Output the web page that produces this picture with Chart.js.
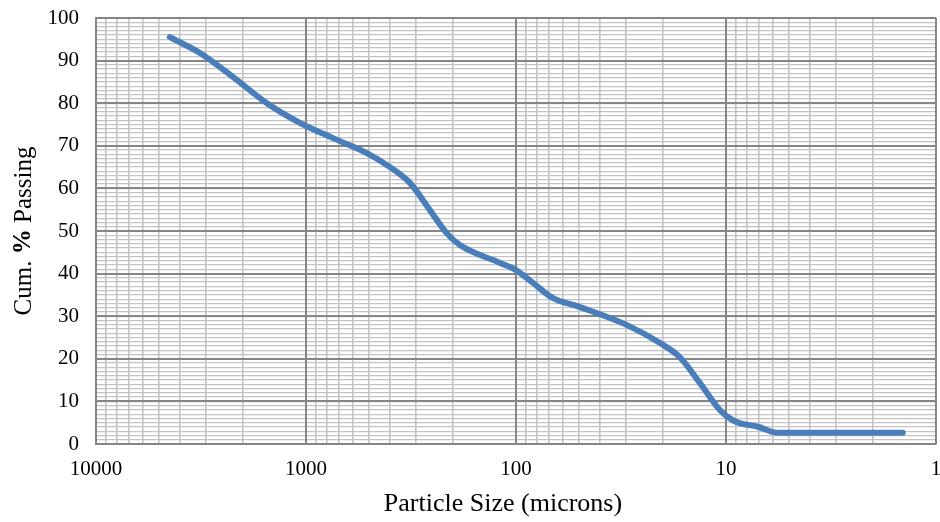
<!DOCTYPE html>
<html lang="en">
<head>
    <meta charset="UTF-8">
    <title>Particle Size Distribution</title>
    <script src="https://cdn.jsdelivr.net/npm/chart.js"></script>
    <style>
        html, body { margin: 0; padding: 0; background: #fff; overflow: hidden; }
        .graph { width: 940px; height: 522px; }
    </style>
</head>
<body>
    <div class="graph">
        <canvas id="myChart" width="940" height="522"></canvas>
    </div>

<script>
    // particle size (microns) and cumulative % passing
    var tamanho = [4450, 3200, 2230, 1535, 1070, 743, 513, 398, 320, 257, 214, 185, 119, 100, 83, 67, 50, 29.6, 20.6, 16.6, 13.3, 10.7, 9.3, 8.6, 7.1, 5.7, 1.44];
    var passando = [95.5, 91.8, 86.2, 80, 75.4, 71.8, 68.3, 65, 61.3, 54.9, 49.5, 46.7, 42.5, 40.8, 37.8, 34.3, 32.2, 27.9, 23.7, 20.4, 14.3, 8, 5.6, 4.9, 4.1, 2.65, 2.65];

    // axis labels
    var xLabels = [10000, 1000, 100, 10, 1];
    var yLabels = [0, 10, 20, 30, 40, 50, 60, 70, 80, 90, 100];
    var decadas = [1, 10, 100, 1000];
    var multiplos = [1, 2, 3, 4, 5, 6, 7, 8, 9];
    var tituloX = 'Particle Size (microns)';

    var corMaior = '#868686';
    var corMenor = '#c3c3c3';
    var fonte = 'Liberation Serif, Times New Roman, serif';

    // axis titles (the y one has a bold % in the middle)
    const titulos = {
        id: 'titulos',
        afterDraw(chart) {
            const ctx = chart.ctx;
            const area = chart.chartArea;
            const partes = [
                { t: 'Cum. ', w: 'normal' },
                { t: '%', w: 'bold' },
                { t: ' Passing', w: 'normal' }
            ];
            ctx.save();
            ctx.fillStyle = '#000';
            ctx.textBaseline = 'middle';

            ctx.font = '26px ' + fonte;
            ctx.textAlign = 'center';
            ctx.fillText(tituloX, 503, 504);

            let total = 0;
            partes.forEach(p => {
                ctx.font = p.w + ' 25px ' + fonte;
                p.largura = ctx.measureText(p.t).width;
                total += p.largura;
            });
            ctx.translate(24, (area.top + area.bottom) / 2);
            ctx.rotate(-Math.PI / 2);
            ctx.textAlign = 'left';
            let x = -total / 2;
            partes.forEach(p => {
                ctx.font = p.w + ' 25px ' + fonte;
                ctx.fillText(p.t, x, 0);
                x += p.largura;
            });
            ctx.restore();
        }
    };

    // major grid lines on top of the minor ones, under the curve
    const gradeMaior = {
        id: 'gradeMaior',
        beforeDatasetsDraw(chart) {
            const ctx = chart.ctx;
            const a = chart.chartArea;
            const sx = chart.scales.x;
            const sy = chart.scales.y;
            ctx.save();
            ctx.strokeStyle = corMaior;
            ctx.lineWidth = 2;
            ctx.beginPath();
            xLabels.forEach(v => {
                const px = Math.round(sx.getPixelForValue(v));
                ctx.moveTo(px, a.top);
                ctx.lineTo(px, a.bottom);
            });
            yLabels.forEach(v => {
                const py = Math.round(sy.getPixelForValue(v));
                ctx.moveTo(a.left, py);
                ctx.lineTo(a.right, py);
            });
            ctx.stroke();
            ctx.restore();
        }
    };

    const pontos = tamanho.map((v, i) => ({ x: v, y: passando[i] }));

    const config = {
        type: 'line',
        data: {
            datasets: [{
                label: 'Cum. % Passing',
                data: pontos,
                borderColor: '#4a7ebb',
                borderWidth: 6,
                borderCapStyle: 'round',
                pointRadius: 0,
                cubicInterpolationMode: 'monotone',
                fill: false
            }]
        },
        options: {
            responsive: false,
            animation: false,
            layout: { padding: { top: 18, right: 4, left: 0, bottom: 0 } },
            plugins: {
                legend: { display: false },
                tooltip: { enabled: false }
            },
            scales: {
                x: {
                    type: 'logarithmic',
                    reverse: true,
                    min: 1,
                    max: 10000,
                    afterBuildTicks: function (scale) {
                        var t = [];
                        decadas.forEach(d => multiplos.forEach(m => t.push({ value: m * d })));
                        t.push({ value: 10000 });
                        scale.ticks = t;
                    },
                    afterFit: function (scale) {
                        scale.height = 78;
                        scale.paddingLeft = 0;
                        scale.paddingRight = 0;
                    },
                    ticks: {
                        autoSkip: false,
                        maxRotation: 0,
                        padding: 13,
                        color: '#000',
                        font: { family: fonte, size: 21 },
                        callback: function (v) {
                            return xLabels.indexOf(v) >= 0 ? String(v) : '';
                        }
                    },
                    grid: {
                        drawTicks: false,
                        lineWidth: 1.6,
                        color: corMenor
                    },
                    border: { color: corMaior, width: 2 },
                    title: { display: false }
                },
                y: {
                    min: 0,
                    max: 100,
                    afterFit: function (scale) {
                        scale.width = 96;
                        scale.paddingTop = 0;
                        scale.paddingBottom = 0;
                    },
                    ticks: {
                        stepSize: 1,
                        autoSkip: false,
                        padding: 17,
                        color: '#000',
                        font: { family: fonte, size: 21 },
                        callback: function (v) {
                            return yLabels.indexOf(v) >= 0 ? String(v) : '';
                        }
                    },
                    grid: {
                        drawTicks: false,
                        lineWidth: 1.3,
                        color: corMenor
                    },
                    border: { color: corMaior, width: 2 }
                }
            }
        },
        plugins: [gradeMaior, titulos]
    };

    const myChart = new Chart(document.getElementById('myChart'), config);
</script>
</body>
</html>
